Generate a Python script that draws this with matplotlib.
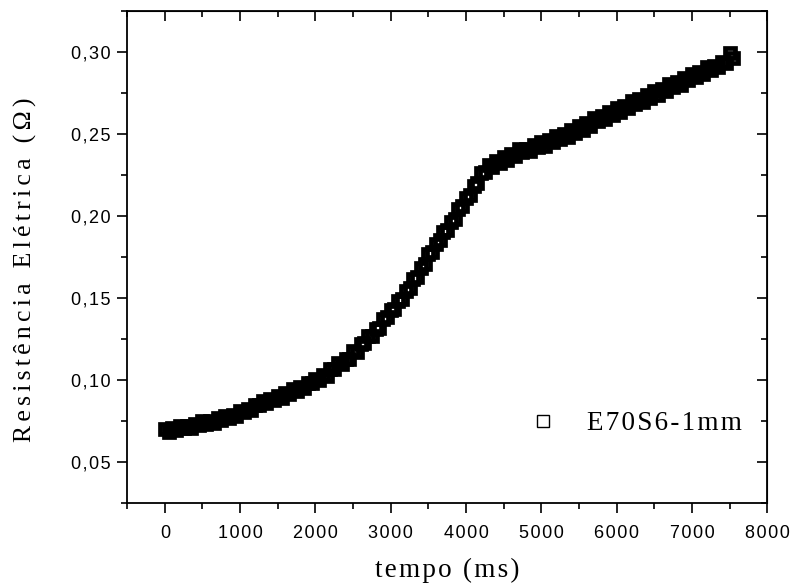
import numpy as np
import matplotlib
matplotlib.use("Agg")
import matplotlib.pyplot as plt
from matplotlib.ticker import MultipleLocator, FuncFormatter

# tempo (ms), one sample each 50 ms
tempo = np.arange(0, 7551, 50)

# resistencia (ohm)
resistencia = [
    .0702, .0684, .0706, .0695, .0721, .0707, .0719, .0708, .0734, .0725,
    .0747, .0731, .0751, .0739, .0767, .0757, .0782, .0768, .0787, .0780,
    .0812, .0802, .0826, .0818, .0850, .0846, .0872, .0858, .0882, .0877,
    .0905, .0893, .0920, .0917, .0945, .0932, .0956, .0950, .0984, .0979,
    .1007, .1001, .1031, .1027, .1064, .1064, .1104, .1100, .1128, .1129,
    .1175, .1173, .1218, .1228, .1268, .1270, .1310, .1318, .1369, .1382,
    .1427, .1435, .1481, .1493, .1544, .1563, .1618, .1630, .1684, .1709,
    .1766, .1778, .1832, .1852, .1904, .1916, .1965, .1982, .2040, .2059,
    .2112, .2128, .2183, .2201, .2260, .2267, .2308, .2298, .2334, .2324,
    .2360, .2344, .2379, .2368, .2407, .2388, .2411, .2396, .2433, .2420,
    .2451, .2429, .2463, .2449, .2489, .2471, .2497, .2483, .2524, .2509,
    .2548, .2526, .2564, .2551, .2597, .2577, .2608, .2591, .2635, .2617,
    .2657, .2632, .2673, .2656, .2703, .2681, .2712, .2693, .2740, .2722,
    .2763, .2738, .2776, .2760, .2807, .2784, .2816, .2800, .2844, .2827,
    .2865, .2846, .2880, .2868, .2906, .2890, .2917, .2907, .2942, .2931,
    .2995, .2962,
]

serie = "E70S6-1mm"
xlabel = "tempo (ms)"
ylabel = "Resistência Elétrica (Ω)"

SANS = ["Liberation Sans", "DejaVu Sans"]
SERIF = ["Liberation Serif", "DejaVu Serif"]


def spaced(s, sep="\u200a"):
    return sep.join(s)


fig = plt.figure(figsize=(7.95, 5.88), dpi=100)
ax = fig.add_axes([0.160, 0.1446, 0.805, 0.8367])

ax.plot(tempo, resistencia, linestyle="none", marker="s", markersize=7.5,
        markerfacecolor="none", markeredgecolor="black", markeredgewidth=3.4,
        label=spaced(serie))

ax.set_xlim(-500, 8000)
ax.set_ylim(0.025, 0.325)

ax.xaxis.set_major_locator(MultipleLocator(1000))
ax.xaxis.set_minor_locator(MultipleLocator(500))
ax.yaxis.set_major_locator(MultipleLocator(0.05))
ax.yaxis.set_minor_locator(MultipleLocator(0.025))
ax.yaxis.set_major_formatter(
    FuncFormatter(lambda v, p: spaced(f"{v:.2f}".replace(".", ","))))
ax.xaxis.set_major_formatter(
    FuncFormatter(lambda v, p: "" if v < 0 else spaced(f"{v:.0f}")))

ax.tick_params(which="major", direction="out", length=7, width=1.2, labelsize=13)
ax.tick_params(which="minor", direction="out", length=4.5, width=1.2)
ax.tick_params(axis="y", pad=5)
ax.tick_params(axis="x", pad=9)
for lab in ax.get_xticklabels() + ax.get_yticklabels():
    lab.set_family(SANS)

for sp in ax.spines.values():
    sp.set_linewidth(1.3)

# top and right ticks point inward
top = ax.secondary_xaxis("top")
top.xaxis.set_major_locator(MultipleLocator(1000))
top.xaxis.set_minor_locator(MultipleLocator(500))
top.tick_params(which="major", direction="in", length=7, width=1.2, labeltop=False)
top.tick_params(which="minor", direction="in", length=4.5, width=1.2)
right = ax.secondary_yaxis("right")
right.yaxis.set_major_locator(MultipleLocator(0.05))
right.yaxis.set_minor_locator(MultipleLocator(0.025))
right.tick_params(which="major", direction="in", length=7, width=1.2, labelright=False)
right.tick_params(which="minor", direction="in", length=4.5, width=1.2)

ax.set_xlabel(spaced(xlabel), family=SERIF, fontsize=19.5, va="top")
ax.xaxis.set_label_coords(0.5, -0.112)
ax.set_ylabel(spaced(ylabel, "\u2006"), family=SERIF, fontsize=18.5, va="bottom")
ax.yaxis.set_label_coords(-0.141, 0.474)

leg = ax.legend(loc="center left", bbox_to_anchor=(0.629, 0.1606), frameon=False,
                handlelength=1.0, handletextpad=1.1, borderpad=0, borderaxespad=0,
                prop={"family": SERIF, "size": 19.5})
h = leg.legend_handles[0]
h.set_markeredgewidth(1.0)
h.set_markersize(8)
h.set_markerfacecolor("white")

fig.savefig("out.png", dpi=100)
